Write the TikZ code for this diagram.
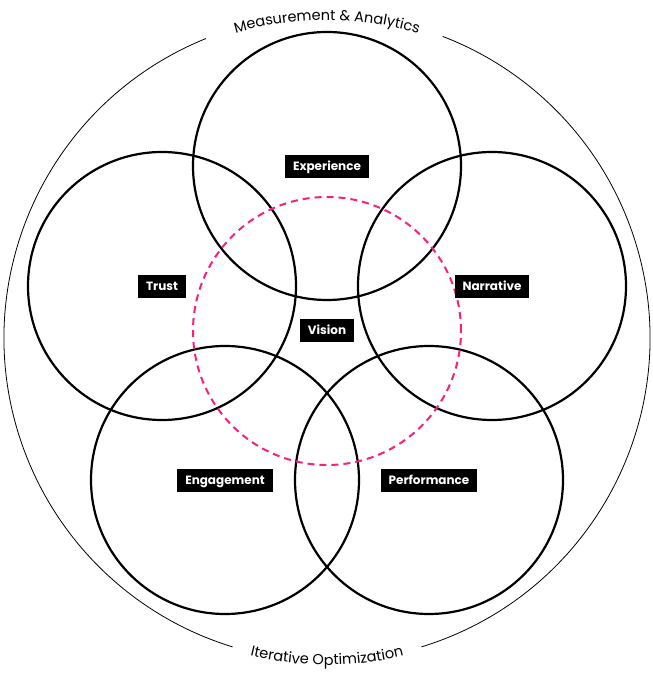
\documentclass[tikz,border=0pt]{standalone}
\usepackage{fontspec}
\setmainfont{Poppins}
\usetikzlibrary{decorations.text}
\definecolor{vispink}{HTML}{F5207F}
\tikzset{
  ring/.style={draw=black, line width=2.2pt},
  tag/.style={fill=black, text=white, font=\fontsize{12}{14}\selectfont\bfseries, inner xsep=8pt, inner ysep=0pt, minimum height=23pt, text height=9pt, text depth=2.5pt},
  outer/.style={draw=black, line width=0.8pt},
}
\begin{document}
\begin{tikzpicture}[x=1pt,y=1pt]
\useasboundingbox (0,0) rectangle (653,673);
\coordinate (O) at (327,335);
% outer ring with gaps
\draw[outer] (O) ++(112:323) arc[start angle=112, end angle=253, radius=323];
\draw[outer] (O) ++(287:323) arc[start angle=287, end angle=429, radius=323];
\path[decorate, decoration={text along path, text align=center,
  text={|\fontsize{14.5}{16}\selectfont|Measurement {\&} Analytics}}]
  (O) ++(125:318) arc[start angle=125, end angle=55, radius=318];
\path[decorate, decoration={text along path, text align=center,
  text={|\fontsize{14.5}{16}\selectfont|Iterative Optimization}}]
  (O) ++(235:327) arc[start angle=235, end angle=305, radius=327];
% circles
\node[ring, circle, minimum size=268pt] (cexp) at (327,507) {};
\node[ring, circle, minimum size=268pt] (ctru) at (162,387) {};
\node[ring, circle, minimum size=268pt] (cnar) at (492,387) {};
\node[ring, circle, minimum size=268pt] (ceng) at (225,193) {};
\node[ring, circle, minimum size=268pt] (cper) at (429,193) {};
\node[circle, draw=vispink, line width=2pt, dash pattern=on 7pt off 5pt, minimum size=268pt] (cvis) at (327,342) {};
% labels
\node[tag] (lexp) at (327,506) {Experience};
\node[tag] (ltru) at (162,386) {Trust};
\node[tag] (lnar) at (492,386) {Narrative};
\node[tag] (lvis) at (327,342) {Vision};
\node[tag] (leng) at (225,192) {Engagement};
\node[tag] (lper) at (429,192) {Performance};
\end{tikzpicture}
\end{document}
